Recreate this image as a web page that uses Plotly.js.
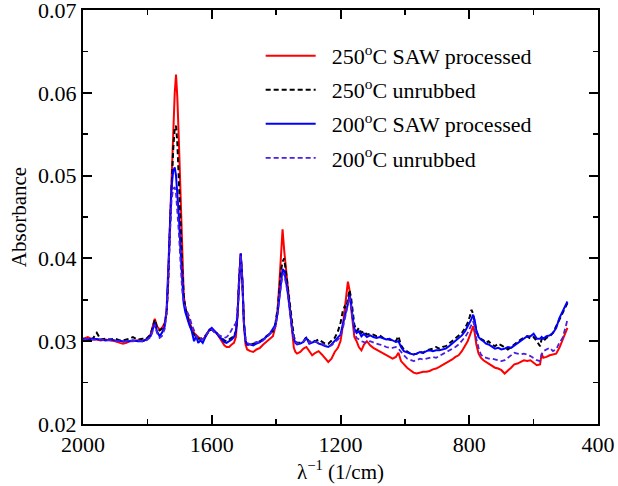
<!DOCTYPE html>
<html>
<head>
<meta charset="utf-8">
<script src="https://cdn.plot.ly/plotly-3.0.1.min.js"></script>
<style>html,body{margin:0;padding:0;background:#fff;}#chart{width:618px;height:486px;}</style>
</head>
<body>
<div id="chart"></div>
<script>
const wavenumber = [
 2000,1985,1970,1957,1945,1930,1915,1900,1885,1876,1865,1855,1845,1830,1815,1803,
 1790,1782,1777,1770,1762,1755,1746,
 1740,1735,1730,1725,1720,1715,1711,1707,1702,1697,1692,1687,1682,1677,1670,1662,1655,1648,1642,
 1635,1628,1621,1614,1607,1600,1593,1585,1577,1569,1561,1554,1546,1538,1531,1525,
 1520,1515,1510,1505,1500,1495,1490,1480,1471,1461,
 1450,1440,1430,1420,1410,1402,1395,1390,1385,1380,1375,1370,1365,1360,1355,1350,1345,1340,1335,
 1325,1315,1306,1297,1288,1278,1268,1258,1248,1238,1228,1218,1208,1200,1193,1187,1182,1177,1172,1167,1162,1157,1150,1143,1135,1127,1118,
 1108,1098,1088,1078,1068,1058,1048,1038,1028,1020,1012,1003,993,983,973,963,953,943,933,923,913,903,893,883,873,863,853,843,
 833,823,813,805,798,793,788,783,778,771,764,756,748,740,730,720,710,700,690,680,670,660,650,640,630,620,610,600,590,580,575,570,560,550,540,530,520,510,500,495
];

const saw250 = [
 .0303,.0305,.0302,.0302,.0301,.0302,.0301,.0300,.0298,.0297,.0298,.0300,.0300,.0301,.0300,.0302,
 .0308,.0320,.0327,.0318,.0314,.0316,.0322,
 .0335,.0375,.0440,.0500,.0555,.0600,.0622,.0595,.0540,.0470,.0395,.0355,.0340,.0333,.0325,.0315,.0310,.0307,.0305,
 .0303,.0302,.0305,.0310,.0314,.0315,.0313,.0310,.0305,.0300,.0295,.0293,.0293,.0296,.0298,.0305,
 .0330,.0375,.0406,.0375,.0320,.0296,.0290,.0288,.0287,.0290,
 .0292,.0296,.0299,.0303,.0306,.0318,.0340,.0370,.0405,.0435,.0410,.0390,.0370,.0348,.0325,.0305,.0292,.0287,.0285,
 .0287,.0291,.0293,.0288,.0283,.0286,.0288,.0284,.0280,.0275,.0279,.0287,.0292,.0300,.0318,.0335,.0355,.0372,.0362,.0340,.0318,.0305,.0300,.0293,.0289,.0296,.0300,
 .0295,.0292,.0290,.0287,.0285,.0283,.0281,.0279,.0281,.0286,.0276,.0272,.0268,.0265,.0262,.0261,.0262,.0263,.0263,.0264,.0266,.0267,.0269,.0271,.0273,.0276,.0278,.0281,
 .0283,.0288,.0294,.0300,.0307,.0313,.0318,.0310,.0296,.0285,.0280,.0277,.0275,.0273,.0271,.0268,.0267,.0265,.0261,.0264,.0268,.0272,.0273,.0275,.0277,.0276,.0277,.0274,.0271,.0272,.0285,.0280,.0281,.0283,.0284,.0285,.0292,.0302,.0312,.0316
];

const unrubbed250 = [
 .0302,.0303,.0303,.0310,.0302,.0303,.0302,.0303,.0301,.0301,.0302,.0303,.0305,.0302,.0303,.0303,
 .0308,.0320,.0326,.0317,.0313,.0315,.0321,
 .0335,.0375,.0435,.0490,.0530,.0558,.0560,.0540,.0500,.0445,.0390,.0355,.0340,.0332,.0322,.0313,.0308,.0305,.0303,
 .0303,.0304,.0306,.0310,.0313,.0314,.0312,.0310,.0306,.0303,.0301,.0300,.0302,.0304,.0306,.0312,
 .0332,.0376,.0405,.0372,.0322,.0300,.0296,.0295,.0297,.0298,
 .0300,.0303,.0306,.0310,.0312,.0322,.0340,.0362,.0385,.0396,.0400,.0385,.0370,.0352,.0334,.0318,.0306,.0300,.0298,
 .0298,.0300,.0305,.0299,.0301,.0300,.0302,.0299,.0297,.0297,.0300,.0304,.0312,.0322,.0336,.0342,.0340,.0350,.0362,.0352,.0335,.0320,.0312,.0316,.0310,.0312,.0308,
 .0309,.0308,.0306,.0307,.0304,.0303,.0302,.0301,.0300,.0306,.0295,.0290,.0287,.0285,.0284,.0285,.0287,.0286,.0289,.0290,.0291,.0293,.0291,.0293,.0294,.0297,.0300,.0303,
 .0306,.0310,.0316,.0322,.0330,.0338,.0333,.0322,.0312,.0306,.0303,.0301,.0298,.0300,.0296,.0294,.0297,.0295,.0292,.0290,.0293,.0296,.0300,.0302,.0304,.0306,.0303,.0305,.0300,.0294,.0303,.0300,.0304,.0306,.0310,.0318,.0325,.0333,.0342,.0346
];

const saw200 = [
 .0303,.0302,.0303,.0302,.0302,.0301,.0302,.0301,.0300,.0300,.0300,.0300,.0301,.0300,.0300,.0302,
 .0306,.0316,.0322,.0312,.0306,.0310,.0318,
 .0340,.0385,.0440,.0485,.0505,.0510,.0500,.0480,.0450,.0410,.0370,.0345,.0335,.0328,.0320,.0312,.0300,.0306,.0298,
 .0301,.0298,.0304,.0310,.0314,.0316,.0313,.0310,.0306,.0302,.0299,.0298,.0300,.0302,.0305,.0312,
 .0333,.0378,.0406,.0374,.0322,.0300,.0296,.0296,.0295,.0297,
 .0299,.0302,.0305,.0309,.0315,.0320,.0335,.0355,.0376,.0387,.0385,.0375,.0362,.0346,.0328,.0313,.0303,.0298,.0296,
 .0297,.0299,.0304,.0297,.0298,.0300,.0297,.0296,.0294,.0293,.0296,.0300,.0305,.0308,.0320,.0330,.0335,.0345,.0356,.0345,.0328,.0315,.0310,.0312,.0306,.0309,.0305,
 .0307,.0305,.0304,.0305,.0303,.0302,.0303,.0301,.0299,.0300,.0293,.0288,.0286,.0285,.0284,.0285,.0287,.0286,.0288,.0289,.0288,.0289,.0289,.0290,.0291,.0294,.0297,.0301,
 .0304,.0307,.0312,.0317,.0323,.0327,.0332,.0325,.0313,.0305,.0302,.0300,.0297,.0296,.0293,.0291,.0292,.0290,.0291,.0293,.0292,.0295,.0298,.0301,.0303,.0306,.0306,.0309,.0303,.0303,.0305,.0303,.0306,.0307,.0310,.0316,.0328,.0336,.0344,.0348
];

const unrubbed200 = [
 .0302,.0303,.0302,.0302,.0302,.0301,.0301,.0300,.0300,.0299,.0300,.0301,.0300,.0301,.0300,.0301,
 .0305,.0314,.0320,.0310,.0304,.0306,.0315,
 .0338,.0380,.0430,.0470,.0484,.0486,.0478,.0460,.0430,.0395,.0362,.0345,.0342,.0336,.0330,.0320,.0312,.0306,.0302,
 .0303,.0302,.0305,.0310,.0313,.0314,.0311,.0309,.0307,.0305,.0304,.0305,.0308,.0314,.0318,.0322,
 .0334,.0378,.0404,.0372,.0322,.0302,.0298,.0296,.0298,.0299,
 .0298,.0301,.0305,.0308,.0312,.0318,.0333,.0352,.0370,.0380,.0382,.0372,.0360,.0345,.0328,.0313,.0303,.0299,.0297,
 .0298,.0300,.0303,.0298,.0300,.0299,.0298,.0297,.0295,.0294,.0295,.0298,.0302,.0306,.0315,.0326,.0335,.0342,.0354,.0342,.0325,.0310,.0304,.0302,.0300,.0299,.0298,
 .0300,.0298,.0297,.0296,.0295,.0293,.0292,.0292,.0293,.0291,.0287,.0283,.0279,.0277,.0276,.0277,.0279,.0278,.0279,.0280,.0281,.0280,.0282,.0284,.0286,.0288,.0291,.0293,
 .0296,.0300,.0305,.0310,.0316,.0320,.0324,.0317,.0303,.0292,.0284,.0281,.0280,.0279,.0279,.0278,.0277,.0276,.0277,.0280,.0284,.0286,.0285,.0284,.0285,.0284,.0282,.0279,.0277,.0276,.0284,.0288,.0290,.0292,.0288,.0290,.0298,.0304,.0318,.0326
];

const seriesNames = [
 '\u2002250<sup>o</sup>C SAW processed',
 '\u2002250<sup>o</sup>C unrubbed',
 '\u2002200<sup>o</sup>C SAW processed',
 '\u2002200<sup>o</sup>C unrubbed'
];
const xTickVals = [2000, 1600, 1200, 800, 400];
const yTickVals = [0.02, 0.03, 0.04, 0.05, 0.06, 0.07];

const seriesY = [saw250, unrubbed250, saw200, unrubbed200];
const styles = [
 {color: '#ff0000', dash: 'solid', width: 2},
 {color: '#000000', dash: '5px,3px', width: 2},
 {color: '#0000ff', dash: 'solid', width: 2},
 {color: '#4a1fe0', dash: '5px,3px', width: 1.8}
];

const traces = seriesY.map((ys, i) => ({
  type: 'scatter', mode: 'lines',
  x: wavenumber, y: ys,
  name: seriesNames[i],
  legendgroup: 'g' + i,
  line: styles[i]
}));

const font = {family: '"Liberation Serif", "Times New Roman", serif', color: '#000'};

const layout = {
  width: 618, height: 486,
  margin: {l: 83, r: 20, t: 10, b: 62},
  paper_bgcolor: '#fff', plot_bgcolor: '#fff',
  font: Object.assign({size: 22}, font),
  showlegend: true,
  legend: {
    x: 0.345, y: 0.94, xanchor: 'left', yanchor: 'top',
    bgcolor: 'rgba(0,0,0,0)', borderwidth: 0,
    font: Object.assign({size: 22}, font),
    itemwidth: 50, tracegroupgap: 2.5
  },
  xaxis: {
    range: [2000, 400], autorange: false,
    tickvals: xTickVals, ticktext: xTickVals.map(String),
    ticks: 'inside', ticklen: 9, tickwidth: 2, tickcolor: '#000',
    minor: {dtick: 200, tick0: 0, ticks: 'inside', ticklen: 5, tickwidth: 1.5, tickcolor: '#000'},
    showline: true, linewidth: 2, linecolor: '#000', mirror: 'allticks',
    showgrid: false, zeroline: false, ticklabeloverflow: 'allow',
    tickfont: Object.assign({size: 22}, font),
    title: {text: 'λ<sup>−1</sup> (1/cm)', font: Object.assign({size: 21}, font), standoff: 4}
  },
  yaxis: {
    range: [0.02, 0.07], autorange: false,
    tickvals: yTickVals, tickformat: '.2f',
    ticks: 'inside', ticklen: 9, tickwidth: 2, tickcolor: '#000',
    minor: {dtick: 0.005, tick0: 0, ticks: 'inside', ticklen: 5, tickwidth: 1.5, tickcolor: '#000'},
    showline: true, linewidth: 2, linecolor: '#000', mirror: 'allticks',
    showgrid: false, zeroline: false, ticklabeloverflow: 'allow',
    tickfont: Object.assign({size: 22}, font),
    title: {text: 'Absorbance', font: Object.assign({size: 21}, font), standoff: 6}
  }
};

Plotly.newPlot('chart', traces, layout, {displayModeBar: false, staticPlot: true});
</script>
</body>
</html>
